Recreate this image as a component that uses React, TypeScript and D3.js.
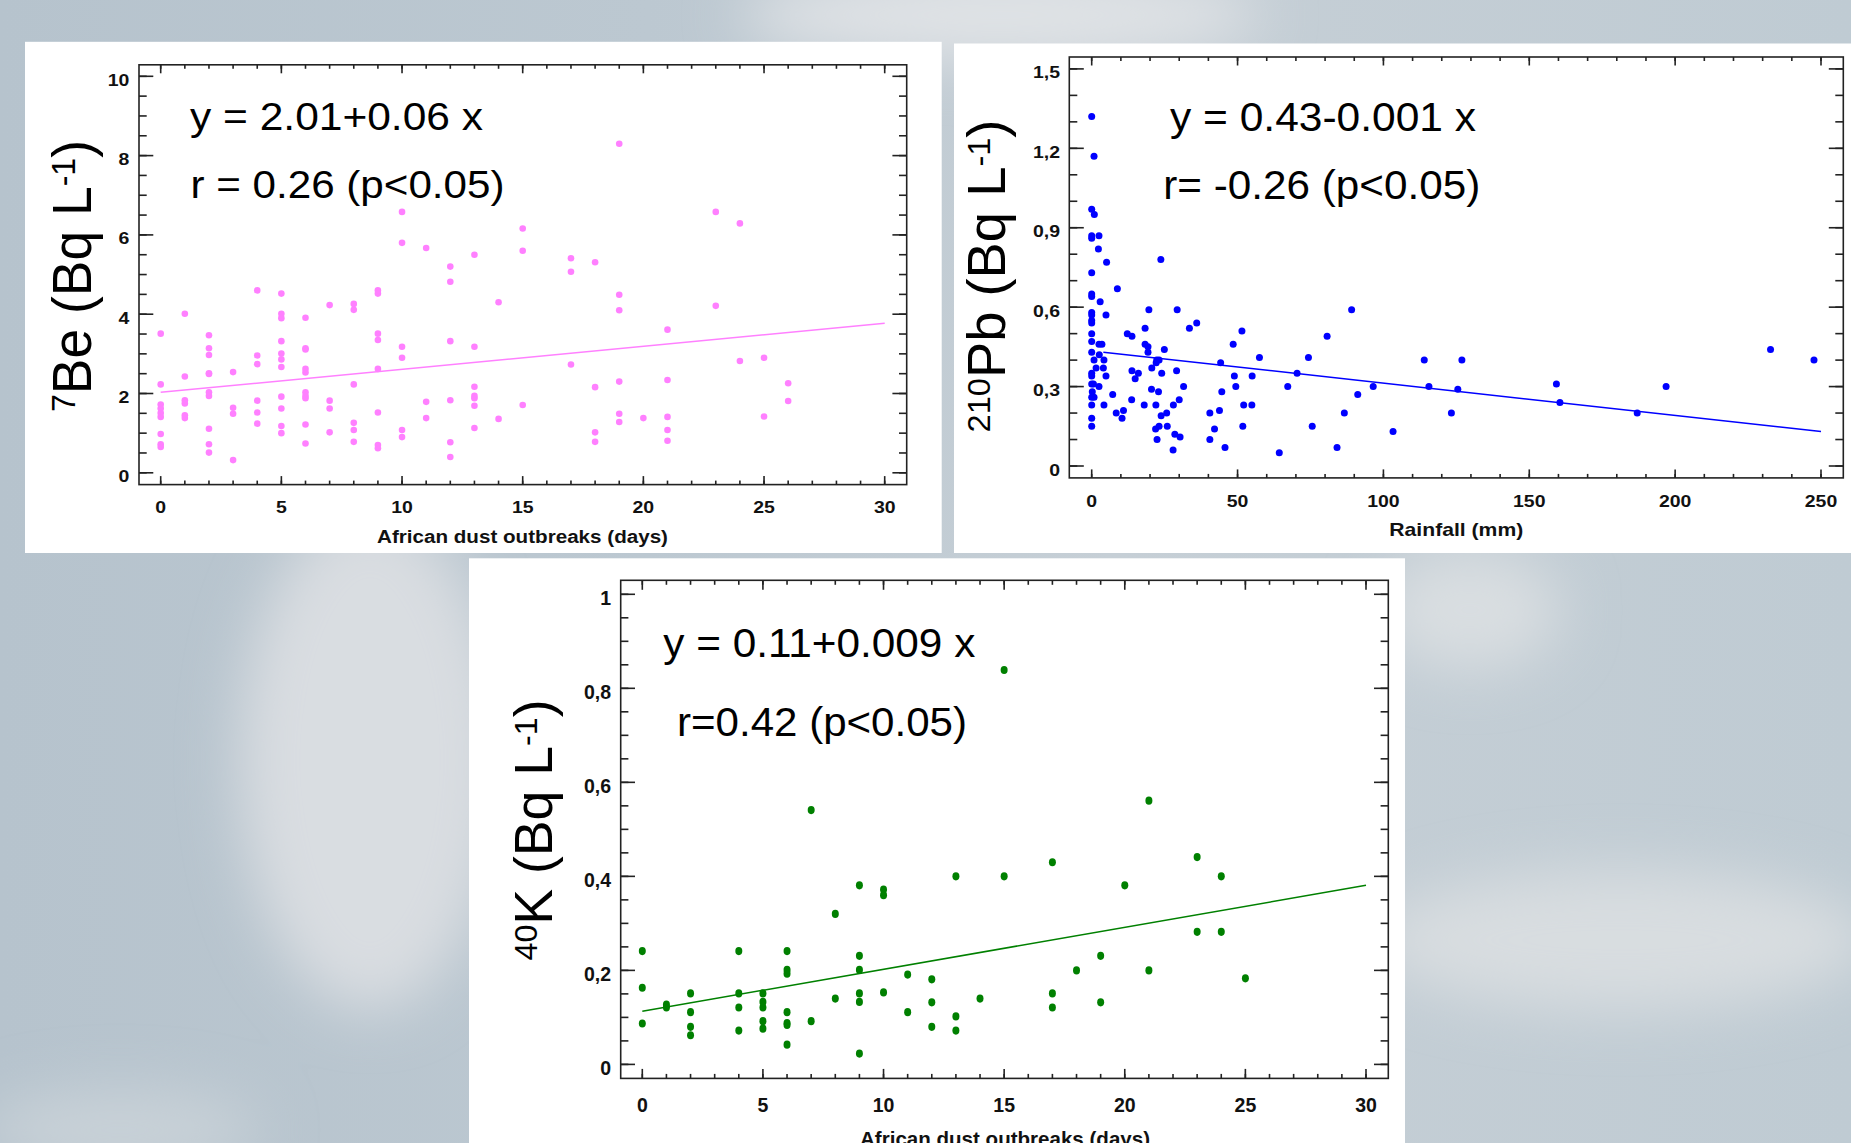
import React from "react";
import * as d3 from "d3";

type Pt = [number, number];

// ---------- DATA ----------
// Panel 1: 7Be vs African dust outbreaks (days)
const be7Points: Pt[] = [
  [0, 3.51], [0, 2.23], [0, 1.72], [0, 1.62], [0, 1.51], [0, 1.41], [0, 0.98], [0, 0.72], [0, 0.65],
  [1, 4.01], [1, 2.43], [1, 1.83], [1, 1.75], [1, 1.45], [1, 1.38],
  [2, 3.47], [2, 3.14], [2, 2.97], [2, 2.51], [2, 2.49], [2, 2.03], [2, 1.94], [2, 1.11], [2, 0.72], [2, 0.51],
  [3, 2.54], [3, 1.64], [3, 1.49], [3, 0.32],
  [4, 4.6], [4, 2.96], [4, 2.74], [4, 1.82], [4, 1.52], [4, 1.24],
  [5, 4.52], [5, 4.01], [5, 3.9], [5, 3.32], [5, 3.01], [5, 2.86], [5, 2.67], [5, 1.92], [5, 1.62], [5, 1.18], [5, 1.0],
  [6, 3.91], [6, 3.14], [6, 3.11], [6, 2.62], [6, 2.53], [6, 2.03], [6, 1.94], [6, 1.88], [6, 1.22], [6, 0.74],
  [7, 4.23], [7, 1.82], [7, 1.62], [7, 1.02],
  [8, 4.26], [8, 4.11], [8, 2.23], [8, 1.26], [8, 1.08], [8, 0.78],
  [9, 4.6], [9, 4.52], [9, 3.51], [9, 3.35], [9, 2.62], [9, 1.52], [9, 0.7], [9, 0.62],
  [10, 6.58], [10, 5.8], [10, 3.18], [10, 2.9], [10, 1.08], [10, 0.9],
  [11, 5.67], [11, 1.79], [11, 1.38],
  [12, 5.2], [12, 4.82], [12, 3.32], [12, 1.83], [12, 0.77], [12, 0.4],
  [13, 5.5], [13, 3.18], [13, 2.17], [13, 1.94], [13, 1.88], [13, 1.69], [13, 1.13],
  [14, 4.3], [14, 1.36],
  [15, 6.16], [15, 5.6], [15, 1.71],
  [17, 5.41], [17, 5.07], [17, 2.73],
  [18, 5.31], [18, 2.16], [18, 1.02], [18, 0.78],
  [19, 8.3], [19, 4.49], [19, 4.1], [19, 2.3], [19, 1.49], [19, 1.28],
  [20, 1.38],
  [21, 3.61], [21, 2.34], [21, 1.41], [21, 1.08], [21, 0.81],
  [23, 6.58], [23, 4.21],
  [24, 6.29], [24, 2.82],
  [25, 2.9], [25, 1.42],
  [26, 2.26], [26, 1.81],
];
const be7Fit: Pt[] = [[0, 2.03], [30, 3.77]];

// Panel 2: 210Pb vs Rainfall (mm)
const pb210Points: Pt[] = [
  [0, 1.32], [0.8, 1.17], [0, 0.97], [0.9, 0.95], [0, 0.87], [0, 0.86], [2.5, 0.87], [2.3, 0.82], [5.1, 0.77],
  [0, 0.73], [8.8, 0.67], [0, 0.65], [0, 0.64], [2.9, 0.62], [0, 0.58], [0, 0.57], [0, 0.55], [0, 0.54],
  [4.9, 0.57], [19.6, 0.59], [29.3, 0.59], [36, 0.54], [33.5, 0.52], [18.3, 0.52], [12.2, 0.5], [13.8, 0.49],
  [0, 0.5], [0, 0.47], [2.5, 0.46], [3.5, 0.46], [18.3, 0.46], [19.3, 0.45], [19.3, 0.43], [24.9, 0.44],
  [0, 0.43], [2.6, 0.42], [0.8, 0.4], [4.2, 0.4], [22.3, 0.4], [23.1, 0.4], [22.1, 0.39], [44.2, 0.39],
  [48.5, 0.46], [51.5, 0.51], [57.5, 0.41], [1.5, 0.37], [4, 0.37], [20.6, 0.37], [13.8, 0.36], [16, 0.35],
  [14.9, 0.33], [24, 0.35], [29.1, 0.36], [48.9, 0.34], [55, 0.34], [70.4, 0.35], [0, 0.35], [0, 0.34],
  [4.9, 0.34], [0, 0.31], [0.6, 0.31], [2.5, 0.3], [20.5, 0.29], [31.5, 0.3], [49.4, 0.3], [67.2, 0.3],
  [96.5, 0.3], [0.2, 0.28], [22.9, 0.28], [7.2, 0.27], [44.6, 0.28], [91.2, 0.27], [0, 0.26], [0.8, 0.26],
  [30, 0.25], [13.7, 0.25], [0, 0.23], [4.2, 0.23], [18, 0.23], [22, 0.23], [28, 0.23], [52.1, 0.23],
  [54.9, 0.23], [8.4, 0.2], [10.9, 0.21], [23.8, 0.19], [25.7, 0.2], [40.5, 0.2], [43.8, 0.21], [86.6, 0.2],
  [0, 0.18], [10.4, 0.18], [0, 0.15], [21.9, 0.14], [23.1, 0.15], [25.9, 0.15], [42.1, 0.14], [51.8, 0.15],
  [75.6, 0.15], [28.5, 0.12], [30.3, 0.11], [22.4, 0.1], [40.5, 0.1], [103.3, 0.13], [45.7, 0.07],
  [27.9, 0.06], [84.1, 0.07], [64.3, 0.05], [74.3, 0.41], [80.7, 0.49], [89.1, 0.59], [23.7, 0.78],
  [114, 0.4], [115.6, 0.3], [126.9, 0.4], [125.5, 0.29], [123.3, 0.2], [159.3, 0.31], [160.5, 0.24],
  [187, 0.2], [196.9, 0.3], [232.7, 0.44], [247.6, 0.4],
];
const pb210Fit: Pt[] = [[4, 0.43], [250, 0.13]];

// Panel 3: 40K vs African dust outbreaks (days)
const k40Points: Pt[] = [
  [0, 0.241], [0, 0.163], [0, 0.087], [1, 0.127], [1, 0.121], [2, 0.151], [2, 0.111], [2, 0.08], [2, 0.062],
  [4, 0.241], [4, 0.151], [4, 0.121], [4, 0.072], [5, 0.151], [5, 0.133], [5, 0.121], [5, 0.092], [5, 0.076],
  [6, 0.241], [6, 0.201], [6, 0.193], [6, 0.111], [6, 0.088], [6, 0.084], [6, 0.042], [7, 0.541], [7, 0.092],
  [8, 0.32], [8, 0.14], [9, 0.381], [9, 0.231], [9, 0.201], [9, 0.151], [9, 0.133], [9, 0.023],
  [10, 0.372], [10, 0.36], [10, 0.153], [11, 0.191], [11, 0.111], [12, 0.181], [12, 0.132], [12, 0.08],
  [13, 0.4], [13, 0.102], [13, 0.072], [14, 0.14], [15, 0.839], [15, 0.4], [17, 0.43], [17, 0.151],
  [17, 0.121], [18, 0.2], [19, 0.231], [19, 0.132], [20, 0.381], [21, 0.561], [21, 0.2], [23, 0.441],
  [23, 0.282], [24, 0.4], [24, 0.282], [25, 0.183],
];
const k40Fit: Pt[] = [[0, 0.113], [30, 0.381]];

// Tick values and labels
const dustTicks = [0, 5, 10, 15, 20, 25, 30];
const dustTickLabels = ["0", "5", "10", "15", "20", "25", "30"];
const rainTicks = [0, 50, 100, 150, 200, 250];
const rainTickLabels = ["0", "50", "100", "150", "200", "250"];
const be7Ticks = [0, 2, 4, 6, 8, 10];
const be7TickLabels = ["0", "2", "4", "6", "8", "10"];
const pb210Ticks = [0, 0.3, 0.6, 0.9, 1.2, 1.5];
const pb210TickLabels = ["0", "0,3", "0,6", "0,9", "1,2", "1,5"];
const k40Ticks = [0, 0.2, 0.4, 0.6, 0.8, 1];
const k40TickLabels = ["0", "0,2", "0,4", "0,6", "0,8", "1"];

// ---------- LAYOUT ----------
const W = 1851;
const H = 1143;
const FONT = "'Liberation Sans', Arial, Helvetica, sans-serif";

type TextCfg = { text: string; x: number; y: number; size: number; len: number };

interface PanelCfg {
  box: [number, number, number, number];
  frame: [number, number, number, number];
  xCal: [number, number];
  xPix: [number, number];
  yCal: [number, number];
  yPix: [number, number];
  points: Pt[];
  fit: Pt[];
  color: string;
  rx: number;
  ry: number;
  xTicks: number[];
  xTickLabels: string[];
  xMinorStep: number;
  yTicks: number[];
  yTickLabels: string[];
  yMinorStep: number;
  tickFont: number;
  tickSx: number;
  xLabelBase: number;
  yLabelRight: number;
  yLabelOff: number;
  yMajor: number;
  yMinorLen: number;
  xMajor: number;
  xMinorLen: number;
  eq: TextCfg[];
  xTitle: TextCfg;
  yTitle: { sup: string; main: string; x: number; cy: number; size: number; len: number };
}

const panels: PanelCfg[] = [
  {
    box: [25, 41.8, 941.7, 553],
    frame: [139, 64.8, 906.7, 484.6],
    xCal: [0, 30], xPix: [160.7, 884.7],
    yCal: [0, 10], yPix: [472.8, 76.3],
    points: be7Points, fit: be7Fit, color: "#ff80ff", rx: 3.3, ry: 3.3,
    xTicks: dustTicks, xTickLabels: dustTickLabels, xMinorStep: 1,
    yTicks: be7Ticks, yTickLabels: be7TickLabels, yMinorStep: 0.5,
    tickFont: 16.5, tickSx: 1.18, xLabelBase: 512.7, yLabelRight: 129.3, yLabelOff: 9.4,
    yMajor: 14.3, yMinorLen: 7.7, xMajor: 8.5, xMinorLen: 4,
    eq: [
      { text: "y = 2.01+0.06 x", x: 190, y: 129.7, size: 38.7, len: 293 },
      { text: "r = 0.26 (p<0.05)", x: 190.5, y: 198, size: 38.7, len: 314 },
    ],
    xTitle: { text: "African dust outbreaks (days)", x: 522.5, y: 543, size: 18.8, len: 291 },
    yTitle: { sup: "7", main: "Be (Bq L", x: 91, cy: 276, size: 56, len: 272 },
  },
  {
    box: [954, 43.5, 1851, 553],
    frame: [1069.3, 57, 1843.3, 477.9],
    xCal: [0, 250], xPix: [1091.7, 1821],
    yCal: [0, 1.5], yPix: [466, 68.9],
    points: pb210Points, fit: pb210Fit, color: "#0000ff", rx: 3.5, ry: 3.5,
    xTicks: rainTicks, xTickLabels: rainTickLabels, xMinorStep: 10,
    yTicks: pb210Ticks, yTickLabels: pb210TickLabels, yMinorStep: 0.1,
    tickFont: 16.5, tickSx: 1.18, xLabelBase: 506.6, yLabelRight: 1060, yLabelOff: 9.5,
    yMajor: 14.5, yMinorLen: 8, xMajor: 8.5, xMinorLen: 4,
    eq: [
      { text: "y = 0.43-0.001 x", x: 1170, y: 130.7, size: 40, len: 306 },
      { text: "r= -0.26 (p<0.05)", x: 1163.3, y: 199, size: 40, len: 317 },
    ],
    xTitle: { text: "Rainfall (mm)", x: 1456.3, y: 536, size: 17.8, len: 134 },
    yTitle: { sup: "210", main: "Pb (Bq L", x: 1005, cy: 276, size: 53.5, len: 313 },
  },
  {
    box: [469, 558.3, 1405, 1143],
    frame: [620.7, 580.3, 1388.3, 1078.4],
    xCal: [0, 30], xPix: [642.3, 1366],
    yCal: [0, 1], yPix: [1064.4, 594.3],
    points: k40Points, fit: k40Fit, color: "#008000", rx: 3.5, ry: 4.1,
    xTicks: dustTicks, xTickLabels: dustTickLabels, xMinorStep: 1,
    yTicks: k40Ticks, yTickLabels: k40TickLabels, yMinorStep: 0.05,
    tickFont: 19.5, tickSx: 1, xLabelBase: 1112, yLabelRight: 611, yLabelOff: 10.5,
    yMajor: 14.3, yMinorLen: 7.7, xMajor: 9.5, xMinorLen: 4.5,
    eq: [
      { text: "y = 0.11+0.009 x", x: 663.3, y: 656.7, size: 40.7, len: 312 },
      { text: "r=0.42 (p<0.05)", x: 677, y: 736, size: 40.7, len: 290 },
    ],
    xTitle: { text: "African dust outbreaks (days)", x: 1005, y: 1146, size: 20.5, len: 290 },
    yTitle: { sup: "40", main: "K (Bq L", x: 552.3, cy: 830, size: 53, len: 261 },
  },
];

function Panel({ cfg }: { cfg: PanelCfg }) {
  const x = d3.scaleLinear().domain(cfg.xCal).range(cfg.xPix);
  const y = d3.scaleLinear().domain(cfg.yCal).range(cfg.yPix);
  const [fl, ft, fr, fb] = cfg.frame;
  const [bl, bt, br, bb] = cfg.box;
  const xMax = cfg.xTicks[cfg.xTicks.length - 1];
  const yMax = cfg.yTicks[cfg.yTicks.length - 1];
  const xMinor = d3.range(0, xMax + 1e-9, cfg.xMinorStep);
  const yMinor = d3.range(0, yMax + 1e-9, cfg.yMinorStep);
  const line = d3.line<Pt>().x((d) => x(d[0])).y((d) => y(d[1]));
  const stroke = "#222";
  const sw = 1.6;
  const supSize = cfg.yTitle.size * 0.6;
  const supShift = cfg.yTitle.size * 0.29;

  return (
    <g>
      <rect x={bl} y={bt} width={br - bl} height={bb - bt} fill="#ffffff" />
      {/* minor ticks */}
      {xMinor.map((v, i) => (
        <g key={"xm" + i}>
          <line x1={x(v)} x2={x(v)} y1={fb} y2={fb - cfg.xMinorLen} stroke={stroke} strokeWidth={sw} />
          <line x1={x(v)} x2={x(v)} y1={ft} y2={ft + cfg.xMinorLen} stroke={stroke} strokeWidth={sw} />
        </g>
      ))}
      {yMinor.map((v, i) => (
        <g key={"ym" + i}>
          <line x1={fl} x2={fl + cfg.yMinorLen} y1={y(v)} y2={y(v)} stroke={stroke} strokeWidth={sw} />
          <line x1={fr} x2={fr - cfg.yMinorLen} y1={y(v)} y2={y(v)} stroke={stroke} strokeWidth={sw} />
        </g>
      ))}
      {/* major ticks */}
      {cfg.xTicks.map((v, i) => (
        <g key={"xM" + i}>
          <line x1={x(v)} x2={x(v)} y1={fb} y2={fb - cfg.xMajor} stroke={stroke} strokeWidth={sw} />
          <line x1={x(v)} x2={x(v)} y1={ft} y2={ft + cfg.xMajor} stroke={stroke} strokeWidth={sw} />
          <text
            transform={`translate(${x(v)},${cfg.xLabelBase}) scale(${cfg.tickSx},1)`}
            textAnchor="middle"
            fontFamily={FONT}
            fontWeight="bold"
            fontSize={cfg.tickFont}
            fill="#111"
          >
            {cfg.xTickLabels[i]}
          </text>
        </g>
      ))}
      {cfg.yTicks.map((v, i) => (
        <g key={"yM" + i}>
          <line x1={fl} x2={fl + cfg.yMajor} y1={y(v)} y2={y(v)} stroke={stroke} strokeWidth={sw} />
          <line x1={fr} x2={fr - cfg.yMajor} y1={y(v)} y2={y(v)} stroke={stroke} strokeWidth={sw} />
          <text
            transform={`translate(${cfg.yLabelRight},${y(v) + cfg.yLabelOff}) scale(${cfg.tickSx},1)`}
            textAnchor="end"
            fontFamily={FONT}
            fontWeight="bold"
            fontSize={cfg.tickFont}
            fill="#111"
          >
            {cfg.yTickLabels[i]}
          </text>
        </g>
      ))}
      {/* frame */}
      <rect x={fl} y={ft} width={fr - fl} height={fb - ft} fill="none" stroke={stroke} strokeWidth={sw} />
      {/* regression line */}
      <path d={line(cfg.fit) || ""} fill="none" stroke={cfg.color} strokeWidth={1.5} />
      {/* points */}
      {cfg.points.map((d, i) => (
        <ellipse key={"p" + i} cx={x(d[0])} cy={y(d[1])} rx={cfg.rx} ry={cfg.ry} fill={cfg.color} />
      ))}
      {/* equations */}
      {cfg.eq.map((t, i) => (
        <text
          key={"eq" + i}
          x={t.x}
          y={t.y}
          fontFamily={FONT}
          fontSize={t.size}
          textLength={t.len}
          lengthAdjust="spacingAndGlyphs"
          fill="#000"
        >
          {t.text}
        </text>
      ))}
      {/* x title */}
      <text
        x={cfg.xTitle.x}
        y={cfg.xTitle.y}
        textAnchor="middle"
        fontFamily={FONT}
        fontWeight="bold"
        fontSize={cfg.xTitle.size}
        textLength={cfg.xTitle.len}
        lengthAdjust="spacingAndGlyphs"
        fill="#111"
      >
        {cfg.xTitle.text}
      </text>
      {/* y title */}
      <text
        transform={`translate(${cfg.yTitle.x},${cfg.yTitle.cy}) rotate(-90)`}
        textAnchor="middle"
        fontFamily={FONT}
        fontSize={cfg.yTitle.size}
        textLength={cfg.yTitle.len}
        lengthAdjust="spacingAndGlyphs"
        fill="#000"
      >
        <tspan fontSize={supSize} dy={-supShift}>{cfg.yTitle.sup}</tspan>
        <tspan dy={supShift}>{cfg.yTitle.main}</tspan>
        <tspan fontSize={supSize} dy={-supShift}>-1</tspan>
        <tspan dy={supShift}>)</tspan>
      </text>
    </g>
  );
}

export default function App() {
  return (
    <svg
      width={W}
      height={H}
      viewBox={`0 0 ${W} ${H}`}
      style={{ position: "absolute", left: 0, top: 0, display: "block" }}
    >
      <defs>
        <linearGradient id="sky" x1="0" y1="0" x2="1" y2="0">
          <stop offset="0" stopColor="#b6c3cd" />
          <stop offset="0.35" stopColor="#bcc8d1" />
          <stop offset="0.6" stopColor="#c6cfd6" />
          <stop offset="1" stopColor="#bfcbd3" />
        </linearGradient>
        <filter id="blur" x="-50%" y="-50%" width="200%" height="200%">
          <feGaussianBlur stdDeviation="28" />
        </filter>
      </defs>
      <rect x={0} y={0} width={W} height={H} fill="url(#sky)" />
      <g filter="url(#blur)">
        <ellipse cx={1000} cy={15} rx={260} ry={45} fill="#e0e3e6" />
        <ellipse cx={370} cy={760} rx={130} ry={250} fill="#d9dde1" />
        <ellipse cx={1620} cy={940} rx={250} ry={70} fill="#d8dde0" />
        <ellipse cx={1470} cy={610} rx={90} ry={60} fill="#d9dee1" />
        <ellipse cx={120} cy={1130} rx={140} ry={40} fill="#c9d2d8" />
      </g>
      {panels.map((p, i) => (
        <Panel key={i} cfg={p} />
      ))}
    </svg>
  );
}
